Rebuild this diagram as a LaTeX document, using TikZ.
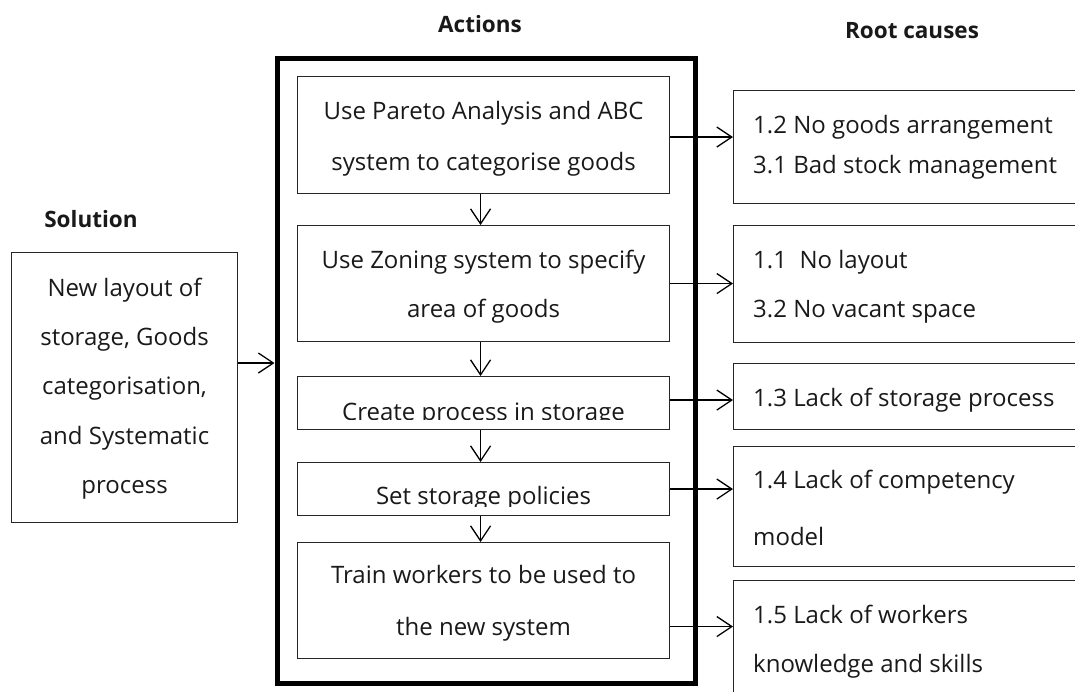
\documentclass[tikz,border=0pt]{standalone}
\usepackage{fontspec}
\usetikzlibrary{arrows.meta,calc}
\setmainfont{Open Sans}
\newcommand{\txtfont}{\fontsize{24}{28}\selectfont}
\newcommand{\hdfont}{\fontsize{22.5}{27}\selectfont\bfseries}
\tikzset{
  box/.style={draw=black!85, line width=1.1pt, inner sep=0pt, anchor=north west},
  frame/.style={draw=black, line width=5pt, inner sep=0pt, anchor=north west},
  ctr/.style={anchor=base, inner sep=0pt, font=\txtfont, text=black!90},
  lft/.style={anchor=base west, inner sep=0pt, font=\txtfont, text=black!90},
  hdr/.style={anchor=base, inner sep=0pt, font=\hdfont, text=black!90},
  arr/.style={-{Straight Barb[length=15pt,width=20pt,line width=1.3pt]}, line width=1.3pt},
}
\begin{document}
\begin{tikzpicture}[x=1pt,y=-1pt]
\useasboundingbox (0,0) rectangle (1075,691);

% column headings
\node[hdr] (hact) at (480,32) {Actions};
\node[hdr] (hroot) at (912,38) {Root causes};
\node[hdr] (hsol) at (91,227) {Solution};

% solution
\node[box, minimum width=226pt, minimum height=270pt] (sol) at (11,252) {};
\node[ctr] (s1) at ($(sol.north)+(0,44)$) {New layout of};
\node[ctr] (s2) at ($(sol.north)+(0,93)$) {storage, Goods};
\node[ctr] (s3) at ($(sol.north)+(0,142)$) {categorisation,};
\node[ctr] (s4) at ($(sol.north)+(0,192)$) {and Systematic};
\node[ctr] (s5) at ($(sol.north)+(0,241)$) {process};

% frame around the actions
\node[frame, minimum width=418pt, minimum height=625pt] (act) at (274.5,56) {};

% actions
\node[box, minimum width=372pt, minimum height=117pt] (a1) at (297,76) {};
\node[box, minimum width=372pt, minimum height=116pt] (a2) at (297,225) {};
\node[box, minimum width=372pt, minimum height=53pt] (a3) at (297,376) {};
\node[box, minimum width=372pt, minimum height=53pt] (a4) at (297,462) {};
\node[box, minimum width=372pt, minimum height=116pt] (a5) at (297,542) {};

\node[ctr] (a1l1) at ($(a1.north)+(0,43)$) {Use Pareto Analysis and ABC};
\node[ctr] (a1l2) at ($(a1.north)+(0,94)$) {system to categorise goods};
\node[ctr] (a2l1) at ($(a2.north)+(0,43)$) {Use Zoning system to specify};
\node[ctr] (a2l2) at ($(a2.north)+(0,92)$) {area of goods};
\begin{scope}
  \clip (a3.north west) rectangle ([yshift=11pt]a3.south east);
  \node[ctr] (a3l1) at ($(a3.north)+(0,44)$) {Create process in storage};
\end{scope}
\begin{scope}
  \clip (a4.north west) rectangle ([yshift=10pt]a4.south east);
  \node[ctr] (a4l1) at ($(a4.north)+(0,42)$) {Set storage policies};
\end{scope}
\node[ctr] (a5l1) at ($(a5.north)+(0,41)$) {Train workers to be used to};
\node[ctr] (a5l2) at ($(a5.north)+(0,93)$) {the new system};

% root causes
\node[box, minimum width=360pt, minimum height=113pt] (r1) at (733,90) {};
\node[box, minimum width=360pt, minimum height=117pt] (r2) at (733,225) {};
\node[box, minimum width=360pt, minimum height=66pt] (r3) at (733,363) {};
\node[box, minimum width=360pt, minimum height=120pt] (r4) at (733,446) {};
\node[box, minimum width=360pt, minimum height=140pt] (r5) at (733,580) {};

\node[lft] (r1l1) at ($(r1.north west)+(20,43)$) {1.2 No goods arrangement};
\node[lft] (r1l2) at ($(r1.north west)+(20,83)$) {3.1 Bad stock management};
\node[lft] (r2l1) at ($(r2.north west)+(20,43)$) {1.1\ \ No layout};
\node[lft] (r2l2) at ($(r2.north west)+(20,92)$) {3.2 No vacant space};
\node[lft] (r3l1) at ($(r3.north west)+(20,43)$) {1.3 Lack of storage process};
\node[lft] (r4l1) at ($(r4.north west)+(20,42)$) {1.4 Lack of competency};
\node[lft] (r4l2) at ($(r4.north west)+(20,99)$) {model};
\node[lft] (r5l1) at ($(r5.north west)+(20,43)$) {1.5 Lack of workers};
\node[lft] (r5l2) at ($(r5.north west)+(20,92)$) {knowledge and skills};

% connectors
\draw[arr] ([yshift=-111pt]sol.north east) -- ([yshift=-111pt]sol.north east -| act.west);
\draw[arr] ([xshift=-3pt]a1.south) -- ([xshift=-3pt]a2.north);
\draw[arr] ([xshift=-3pt]a2.south) -- ([xshift=-3pt]a3.north);
\draw[arr] ([xshift=-3pt]a3.south) -- ([xshift=-3pt]a4.north);
\draw[arr] ([xshift=-3pt]a4.south) -- ([xshift=-3pt]a5.north);
\draw[arr] ([yshift=-2pt]a1.east) -- ([yshift=-2pt]a1.east -| r1.west);
\draw[arr] (a2.east) -- (a2.east -| r2.west);
\draw[arr] ([yshift=3pt]a3.east) -- ([yshift=3pt]a3.east -| r3.west);
\draw[arr] (a4.east) -- (a4.east -| r4.west);
\draw[arr] ([yshift=-26pt]a5.east) -- ([yshift=-26pt]a5.east -| r5.west);
\end{tikzpicture}
\end{document}
